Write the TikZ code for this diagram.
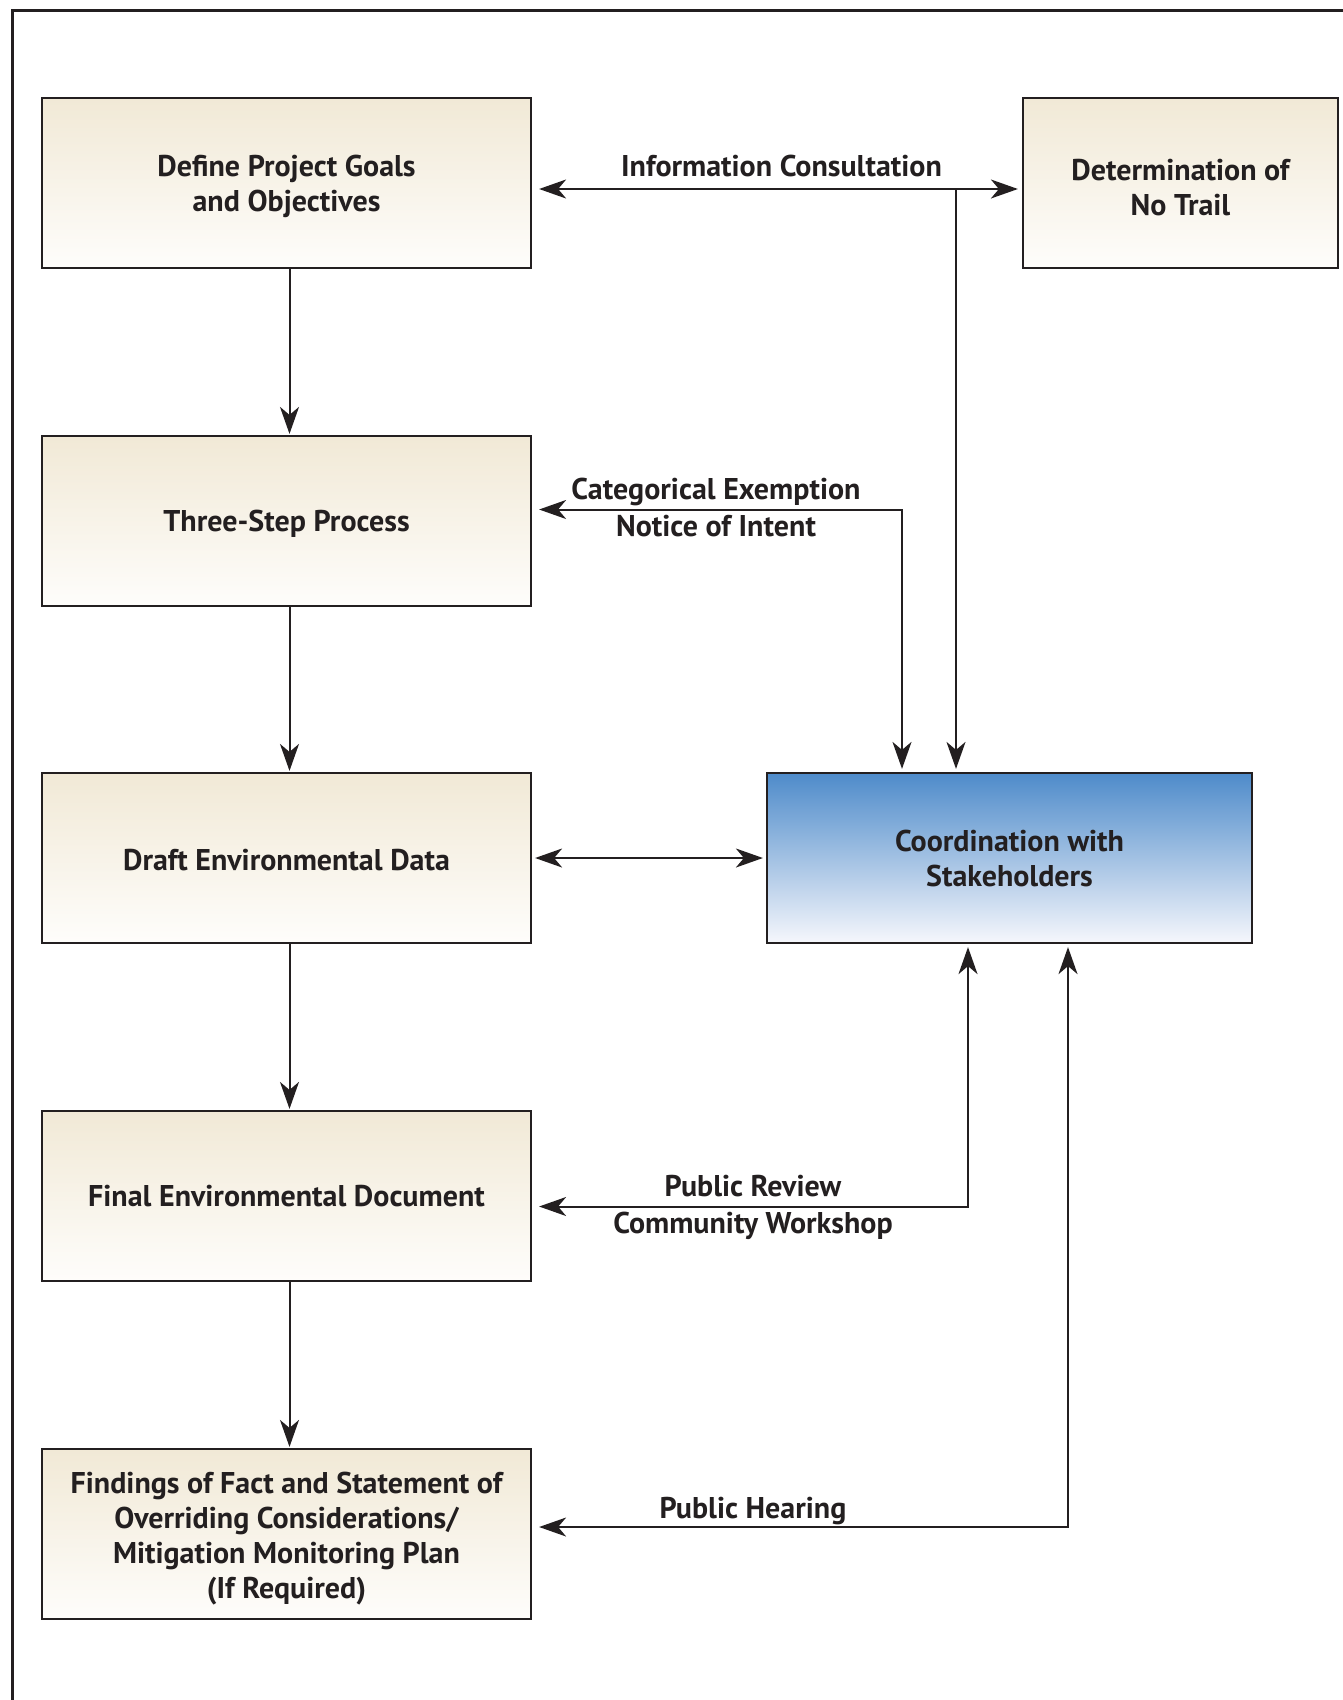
\documentclass[tikz,border=0pt]{standalone}
\usepackage{fontspec}
\setmainfont{PT Sans}
\usetikzlibrary{arrows.meta}
\definecolor{ink}{HTML}{231F20}
\definecolor{beigetop}{HTML}{F1E9D6}
\definecolor{beigebot}{HTML}{FEFDFB}
\definecolor{bluetop}{HTML}{4E8BCA}
\definecolor{bluebot}{HTML}{F6F7FC}
\newcommand\bxstrut[1]{\rule{0pt}{#1}}
\tikzset{
  txt/.style={text=ink, font=\bfseries\fontsize{30}{35}\selectfont},
  box/.style={txt, draw=ink, line width=2.2pt, minimum width=489pt, minimum height=170pt,
    top color=beigetop, bottom color=beigebot, align=center, inner sep=0pt},
  bluebox/.style={box, minimum width=485pt, top color=bluetop, bottom color=bluebot},
  conn/.style={draw=ink, line width=2pt},
  lbl/.style={txt, inner sep=0pt, anchor=base},
  >={Stealth[length=27pt,width=19pt,inset=8pt]}
}
\begin{document}
\begin{tikzpicture}[x=1pt,y=-1pt]
\useasboundingbox (0,0) rectangle (1342,1700);
\draw[ink, line width=3pt] (12.5,1702) -- (12.5,10) -- (1344,10);

\node[box] (b1) at (286.5,183) {\bxstrut{29pt}Define Project Goals\\and Objectives};
\node[box] (b2) at (286.5,521) {\bxstrut{26pt}Three-Step Process};
\node[box] (b3) at (286.5,858) {\bxstrut{26pt}Draft Environmental Data};
\node[box] (b4) at (286.5,1196) {Final Environmental Document};
\node[box] (b5) at (286.5,1534) {\bxstrut{31pt}Findings of Fact and Statement of\\Overriding Considerations/\\Mitigation Monitoring Plan\\(If Required)};
\node[box, minimum width=315pt] (nt) at (1180.5,183) {\bxstrut{30pt}Determination of\\No Trail};
\node[bluebox] (co) at (1009.5,858) {Coordination with\\Stakeholders};

\coordinate (c1) at (956,189);
\coordinate (c2) at (902,509.5);
\coordinate (c4) at (968,1206.5);
\coordinate (c5) at (1068,1527);

\draw[conn,->,shorten >=1pt] ([xshift=3pt]b1.south) -- ([xshift=3pt]b2.north);
\draw[conn,->,shorten >=1pt] ([xshift=3pt]b2.south) -- ([xshift=3pt]b3.north);
\draw[conn,->,shorten >=1pt] ([xshift=3pt]b3.south) -- ([xshift=3pt]b4.north);
\draw[conn,->,shorten >=1pt] ([xshift=3pt]b4.south) -- ([xshift=3pt]b5.north);

\draw[conn,<->,shorten <=7pt,shorten >=4pt] (b1.east |- c1) -- (nt.west |- c1);
\draw[conn,->,shorten >=3pt] (c1) -- (c1 |- co.north);
\draw[conn,<->,shorten <=7pt,shorten >=3pt] (b2.east |- c2) -- (c2) -- (c2 |- co.north);
\draw[conn,<->,shorten <=3pt,shorten >=3pt] (b3.east) -- (co.west);
\draw[conn,<->,shorten <=7pt,shorten >=3pt] (b4.east |- c4) -- (c4) -- (c4 |- co.south);
\draw[conn,<->,shorten <=7pt,shorten >=3pt] (b5.east |- c5) -- (c5) -- (c5 |- co.south);

\node[lbl] (l1) at (781.5,176) {Information Consultation};
\node[lbl] (l2) at (716,499) {Categorical Exemption};
\node[lbl] (l3) at (716,536) {Notice of Intent};
\node[lbl] (l4) at (753,1196) {Public Review};
\node[lbl] (l5) at (753,1233) {Community Workshop};
\node[lbl] (l6) at (753,1518) {Public Hearing};
\end{tikzpicture}
\end{document}
